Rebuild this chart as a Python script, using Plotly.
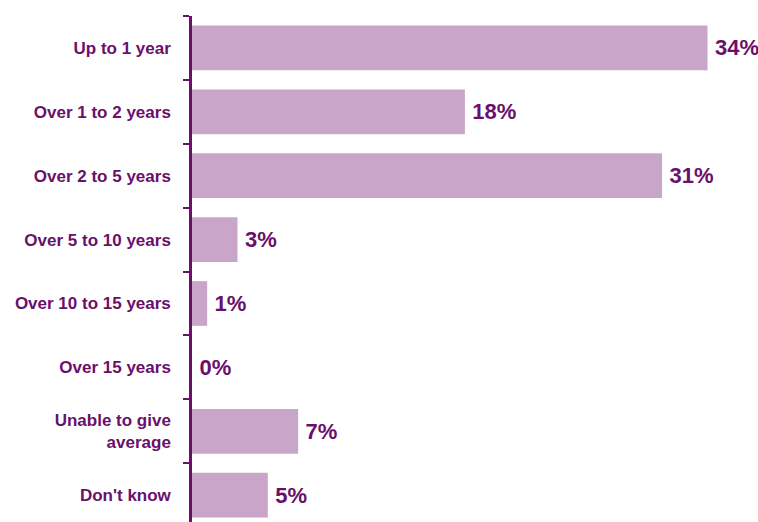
import plotly.graph_objects as go

categories = [
    "Up to 1 year",
    "Over 1 to 2 years",
    "Over 2 to 5 years",
    "Over 5 to 10 years",
    "Over 10 to 15 years",
    "Over 15 years",
    "Unable to give<br>average",
    "Don't know",
]
values = [34, 18, 31, 3, 1, 0, 7, 5]
# thin space keeps the value labels slightly clear of the bar ends
value_labels = [f"\u2009{v}%" for v in values]

PURPLE = "#6A0F6A"
BAR = "#C9A5C9"
FONT = "Liberation Sans, Arial, sans-serif"

fig = go.Figure(
    go.Bar(
        x=values,
        y=categories,
        orientation="h",
        marker=dict(color=BAR, line=dict(width=0)),
        width=0.7,
        text=value_labels,
        textposition="outside",
        cliponaxis=False,
        textfont=dict(family=FONT, size=22, color=PURPLE, weight="bold"),
        hoverinfo="skip",
    )
)

fig.update_layout(
    width=758,
    height=522,
    margin=dict(l=192, r=5, t=16, b=0),
    plot_bgcolor="white",
    paper_bgcolor="white",
    showlegend=False,
    font=dict(family=FONT, color=PURPLE),
)

fig.update_xaxes(
    range=[0, 37],
    visible=False,
    showgrid=False,
    zeroline=False,
)

# the category axis runs on past the bottom edge, so the last band is cut short
fig.update_yaxes(
    type="category",
    range=[7.42, -0.5],
    showline=True,
    linecolor=PURPLE,
    linewidth=2.5,
    ticks="outside",
    tickson="boundaries",
    ticklen=6,
    tickwidth=2,
    tickcolor=PURPLE,
    ticklabelstandoff=15,
    tickfont=dict(family=FONT, size=17, color=PURPLE, weight="bold"),
    showgrid=False,
    zeroline=False,
)

fig.write_html("out.html")
